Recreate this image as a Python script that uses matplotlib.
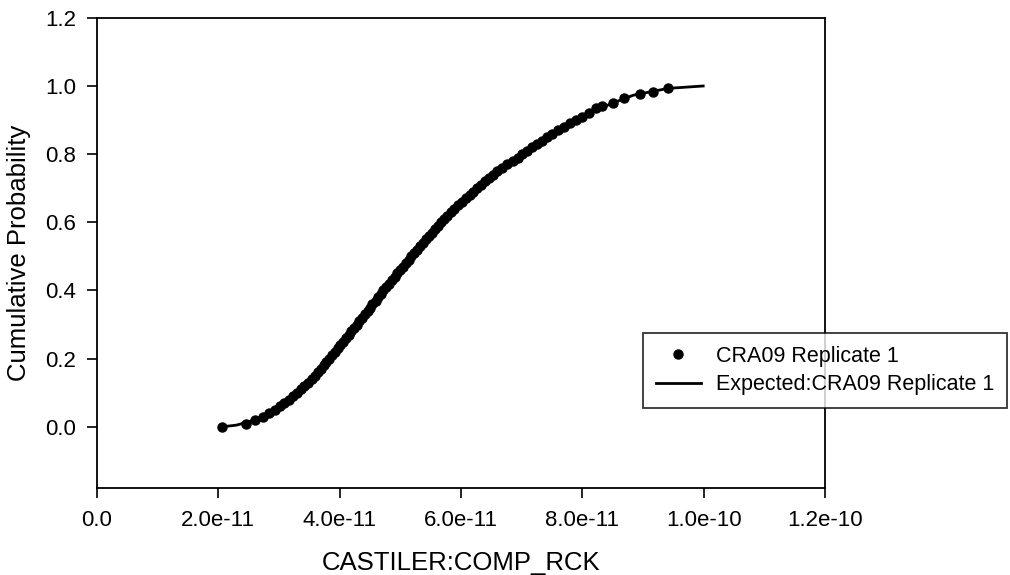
import matplotlib
matplotlib.use("Agg")
import matplotlib.pyplot as plt
import numpy as np

plt.rcParams["font.family"] = ["Liberation Sans", "DejaVu Sans"]

SCALE = 1e-11

# sampled values of CASTILER:COMP_RCK (units of 1e-11) and their cumulative probability
dot_x = [
    2.06, 2.46, 2.60, 2.74, 2.84, 2.93, 3.01, 3.08, 3.16, 3.23,
    3.30, 3.36, 3.42, 3.48, 3.54, 3.59, 3.64, 3.69, 3.74, 3.78,
    3.83, 3.88, 3.92, 3.97, 4.01, 4.06, 4.10, 4.15, 4.19, 4.24,
    4.28, 4.32, 4.37, 4.41, 4.46, 4.50, 4.54, 4.59, 4.63, 4.68,
    4.72, 4.77, 4.81, 4.86, 4.91, 4.95, 5.00, 5.05, 5.09, 5.14,
    5.18, 5.23, 5.28, 5.32, 5.37, 5.42, 5.47, 5.52, 5.57, 5.62,
    5.67, 5.72, 5.77, 5.83, 5.89, 5.95, 6.01, 6.08, 6.14, 6.20,
    6.26, 6.33, 6.40, 6.46, 6.53, 6.60, 6.68, 6.76, 6.85, 6.93,
    7.01, 7.09, 7.17, 7.25, 7.34, 7.42, 7.50, 7.60, 7.70, 7.80,
    7.90, 8.00, 8.10, 8.22, 8.33, 8.50, 8.68, 8.95, 9.17, 9.41,
]
dot_p = [
    0.000, 0.009, 0.020, 0.030, 0.040, 0.050, 0.060, 0.070, 0.080, 0.090,
    0.100, 0.110, 0.120, 0.130, 0.140, 0.150, 0.160, 0.170, 0.180, 0.190,
    0.200, 0.210, 0.220, 0.230, 0.240, 0.250, 0.260, 0.270, 0.280, 0.290,
    0.300, 0.310, 0.320, 0.330, 0.340, 0.350, 0.360, 0.370, 0.380, 0.390,
    0.400, 0.410, 0.420, 0.430, 0.440, 0.450, 0.460, 0.470, 0.480, 0.490,
    0.500, 0.510, 0.520, 0.530, 0.540, 0.550, 0.560, 0.570, 0.580, 0.590,
    0.600, 0.610, 0.620, 0.630, 0.640, 0.650, 0.660, 0.670, 0.680, 0.690,
    0.700, 0.710, 0.720, 0.730, 0.740, 0.750, 0.760, 0.770, 0.780, 0.790,
    0.800, 0.810, 0.820, 0.830, 0.840, 0.850, 0.860, 0.870, 0.880, 0.890,
    0.900, 0.910, 0.920, 0.935, 0.940, 0.950, 0.965, 0.976, 0.982, 0.994,
]

# expected (fitted) cumulative curve
expected_x = [2.06, 2.30, 2.60, 2.80, 3.07, 3.30, 3.56, 3.76, 4.06, 4.50, 4.88,
              5.37, 5.80, 6.26, 6.60, 7.05, 7.50, 7.75, 8.10, 8.50, 8.84, 9.41, 9.99]
expected_p = [0.000, 0.005, 0.020, 0.035, 0.068, 0.100, 0.144, 0.185, 0.250, 0.350, 0.435,
              0.540, 0.625, 0.700, 0.750, 0.805, 0.860, 0.885, 0.920, 0.950, 0.973, 0.993, 1.000]

x_ticks = [0.0, 2e-11, 4e-11, 6e-11, 8e-11, 1e-10, 1.2e-10]
x_tick_labels = ["0.0", "2.0e-11", "4.0e-11", "6.0e-11", "8.0e-11", "1.0e-10", "1.2e-10"]
y_ticks = [0.0, 0.2, 0.4, 0.6, 0.8, 1.0, 1.2]
y_tick_labels = ["0.0", "0.2", "0.4", "0.6", "0.8", "1.0", "1.2"]

fig = plt.figure(figsize=(10.1, 5.75), dpi=100)
ax = fig.add_axes([0.096, 0.151, 0.721, 0.818])

ax.plot(np.array(expected_x) * SCALE, expected_p, color="black", linewidth=2.0,
        label="Expected:CRA09 Replicate 1", zorder=2)
ax.plot(np.array(dot_x) * SCALE, dot_p, linestyle="none", marker="o", markersize=6.5,
        color="black", label="CRA09 Replicate 1", zorder=3)

ax.set_xlim(0, 1.2e-10)
ax.set_ylim(-0.18, 1.2)
ax.set_xticks(x_ticks)
ax.set_xticklabels(x_tick_labels)
ax.set_yticks(y_ticks)
ax.set_yticklabels(y_tick_labels)
ax.tick_params(direction="out", length=7, width=1.2, labelsize=16, colors="black")
ax.tick_params(axis="x", pad=9)
ax.tick_params(axis="y", pad=8)
for spine in ax.spines.values():
    spine.set_linewidth(1.3)

ax.set_xlabel("CASTILER:COMP_RCK", fontsize=18.5, labelpad=14)
ax.set_ylabel("Cumulative Probability", fontsize=18.5, labelpad=10)

handles, labels = ax.get_legend_handles_labels()
leg = fig.legend(handles[::-1], labels[::-1], loc="upper left",
                 bbox_to_anchor=(0.6366, 0.4209), borderaxespad=0, fontsize=15.5,
                 numpoints=1, frameon=True, fancybox=False, shadow=False, borderpad=0.6,
                 handlelength=2.1, handletextpad=0.7, labelspacing=0.35)
leg.get_frame().set_edgecolor("black")
leg.get_frame().set_linewidth(1.3)

fig.savefig("out.png", dpi=100)
